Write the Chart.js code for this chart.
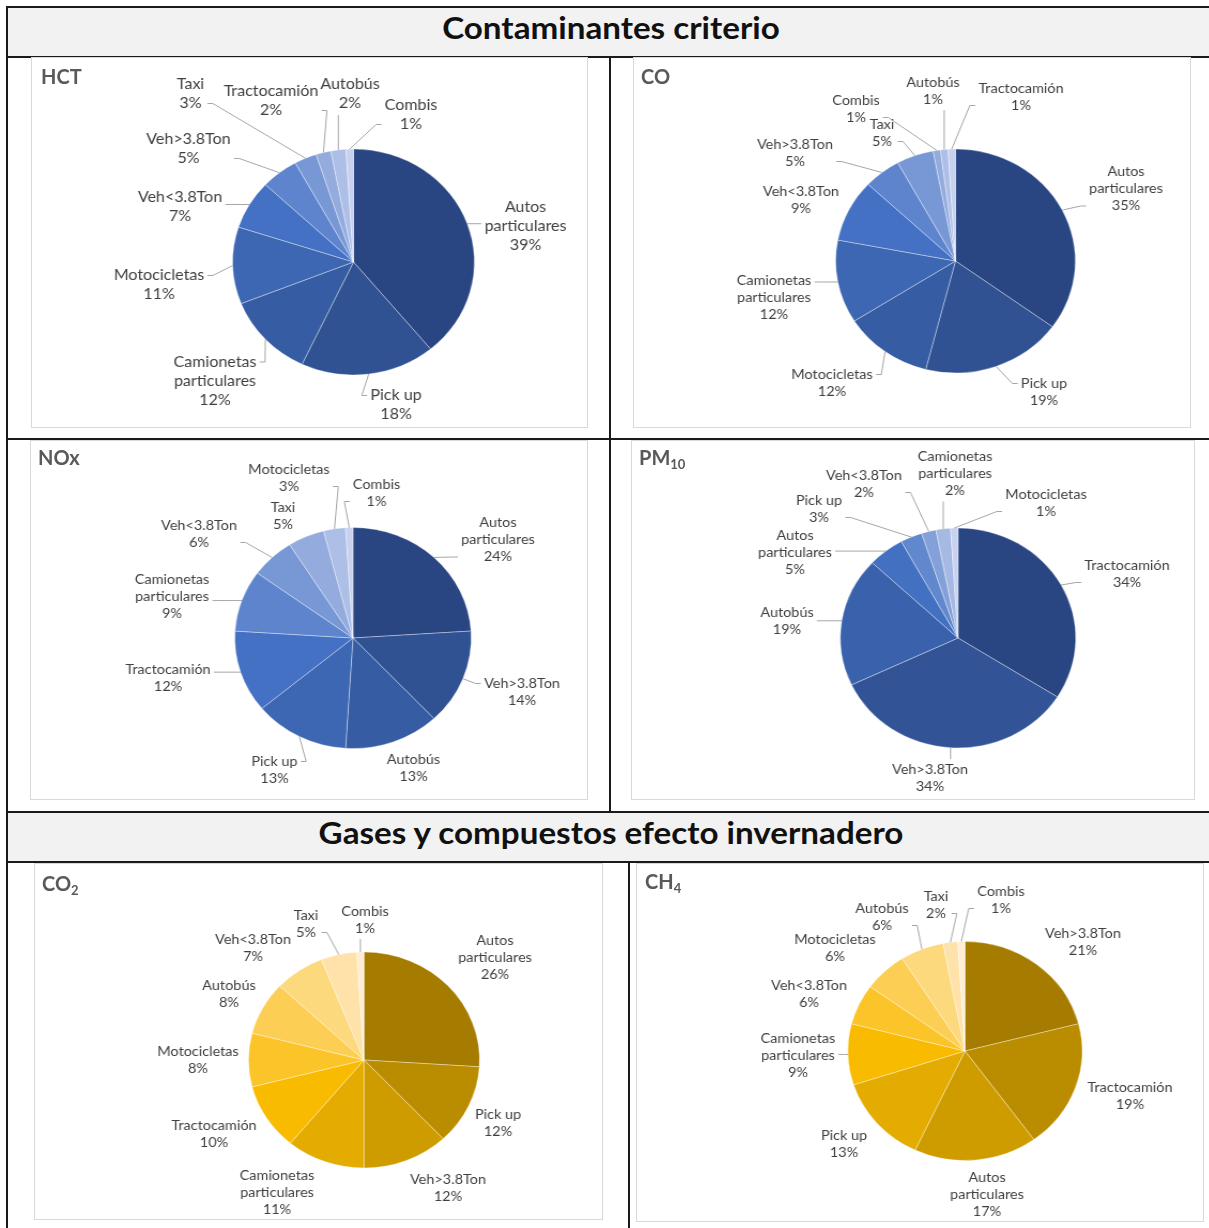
<!DOCTYPE html>
<html lang="es">
<head>
<meta charset="utf-8">
<title>Contaminantes criterio y gases de efecto invernadero</title>
<script src="https://cdn.jsdelivr.net/npm/chart.js@4.4.1/dist/chart.umd.min.js"></script>
<style>
  html, body { margin: 0; padding: 0; background: #fff; }
  body { width: 1209px; height: 1228px; position: relative; overflow: hidden; font-family: Lato, "Open Sans", sans-serif; }
  .rule { position: absolute; background: #1a1a1a; }
  .band { position: absolute; background: #f2f2f2; }
  .band span { position: absolute; top: calc(50% - 5px); left: 603px; white-space: nowrap; font-weight: 700; font-size: 31px; color: #111;
               transform: translate(-50%, -50%) scaleX(1.07); }
  .panel { position: absolute; background: #fff; border: 1px solid #d9d9d9; box-sizing: border-box; }
  .panel canvas { position: absolute; left: 0; top: 0; transform-origin: 0 0; }
  .panel h3 { position: absolute; margin: 0; font-size: 20px; line-height: 20px; font-weight: 700; color: #595959; }
  .panel h3 sub { font-size: 13px; vertical-align: -4px; }
</style>
</head>
<body>

<!-- table frame -->
<div class="band" style="left:8px; top:8px; width:1201px; height:48px;"><span>Contaminantes criterio</span></div>
<div class="band" style="left:8px; top:813px; width:1201px; height:48px;"><span>Gases y compuestos efecto invernadero</span></div>
<div class="rule" style="left:6px; top:6px; width:1203px; height:2px;"></div>
<div class="rule" style="left:6px; top:6px; width:2px; height:1222px;"></div>
<div class="rule" style="left:6px; top:56px; width:1203px; height:2px;"></div>
<div class="rule" style="left:6px; top:438px; width:1203px; height:2px;"></div>
<div class="rule" style="left:6px; top:811px; width:1203px; height:2px;"></div>
<div class="rule" style="left:6px; top:861px; width:1203px; height:2px;"></div>
<div class="rule" style="left:609px; top:57px; width:2px; height:755px;"></div>
<div class="rule" style="left:628px; top:862px; width:2px; height:366px;"></div>

<div id="panels"></div>

<script>
// Participación por tipo de vehículo en las emisiones (%)
const hctCats = ['Autos particulares', 'Pick up', 'Camionetas particulares', 'Motocicletas', 'Veh<3.8Ton',
                 'Veh>3.8Ton', 'Taxi', 'Tractocamión', 'Autobús', 'Combis'];
const hctVals = [39, 18, 12, 11, 7, 5, 3, 2, 2, 1];

const coCats = ['Autos particulares', 'Pick up', 'Motocicletas', 'Camionetas particulares', 'Veh<3.8Ton',
                'Veh>3.8Ton', 'Taxi', 'Combis', 'Autobús', 'Tractocamión'];
const coVals = [35, 19, 12, 12, 9, 5, 5, 1, 1, 1];

const noxCats = ['Autos particulares', 'Veh>3.8Ton', 'Autobús', 'Pick up', 'Tractocamión',
                 'Camionetas particulares', 'Veh<3.8Ton', 'Taxi', 'Motocicletas', 'Combis'];
const noxVals = [24, 14, 13, 13, 12, 9, 6, 5, 3, 1];

const pm10Cats = ['Tractocamión', 'Veh>3.8Ton', 'Autobús', 'Autos particulares', 'Pick up',
                  'Veh<3.8Ton', 'Camionetas particulares', 'Motocicletas'];
const pm10Vals = [34, 34, 19, 5, 3, 2, 2, 1];

const co2Cats = ['Autos particulares', 'Pick up', 'Veh>3.8Ton', 'Camionetas particulares', 'Tractocamión',
                 'Motocicletas', 'Autobús', 'Veh<3.8Ton', 'Taxi', 'Combis'];
const co2Vals = [26, 12, 12, 11, 10, 8, 8, 7, 5, 1];

const ch4Cats = ['Veh>3.8Ton', 'Tractocamión', 'Autos particulares', 'Pick up', 'Camionetas particulares',
                 'Veh<3.8Ton', 'Motocicletas', 'Autobús', 'Taxi', 'Combis'];
const ch4Vals = [21, 19, 17, 13, 9, 6, 6, 6, 2, 1];

// the charts are drawn a bit wider than tall
const STRETCH = 1.07;

// monochrome ramps, dark shade -> accent -> light tint
const BLUE = [[41, 70, 130], [68, 114, 196], [200, 210, 238]];
const GOLD = [[165, 124, 0], [250, 188, 0], [255, 236, 212]];

function ramp(n, [dark, mid, light]) {
  const out = [];
  for (let i = 0; i < n; i++) {
    const t = n > 1 ? i / (n - 1) : 0;
    const [a, b, u] = t < 0.45 ? [dark, mid, t / 0.45] : [mid, light, (t - 0.45) / 0.55];
    out.push('rgb(' + a.map((v, k) => Math.round(v + (b[k] - v) * u)).join(',') + ')');
  }
  return out;
}

// box = [left, top, right, bottom] on the page, center = pie center on the page,
// labels = label centers relative to the pie center (page px)
const panels = [
  { title: 'HCT', cats: hctCats, vals: hctVals, ramp: BLUE, box: [31, 57, 588, 428], center: [352.5, 261], r: 113, font: 15, tt: [9, 8],
    labels: [[172, -36], [42.5, 143], [-138.5, 119], [-194.5, 23], [-173.5, -55], [-165, -113], [-163, -168], [-82.5, -161], [-3.5, -168], [57.5, -147]] },
  { title: 'CO', cats: coCats, vals: coVals, ramp: BLUE, box: [633, 57, 1191, 428], center: [954.5, 260], r: 112, font: 13.5, tt: [7, 8],
    labels: [[170.5, -72], [88.5, 131], [-123.5, 122], [-181.5, 37], [-154.5, -61], [-160.5, -108], [-73.5, -128], [-99.5, -152], [-22.5, -170], [65.5, -164]] },
  { title: 'NOx', cats: noxCats, vals: noxVals, ramp: BLUE, box: [30, 440, 588, 800], center: [352, 637], r: 110.5, font: 13.5, tt: [7, 6],
    labels: [[145, -98], [169, 54], [60.5, 130], [-78.5, 132], [-185, 40], [-181, -41], [-154, -104], [-70, -122], [-64, -160], [23.5, -145]] },
  { title: 'PM<sub>10</sub>', cats: pm10Cats, vals: pm10Vals, ramp: BLUE, box: [631, 440, 1195, 800], center: [957, 637], r: 110, font: 13.5, tt: [7, 6],
    labels: [[169, -64], [-28, 140], [-171, -17], [-163, -85], [-139, -129], [-94, -154], [-3, -164], [88, -135]] },
  { title: 'CO<sub>2</sub>', cats: co2Cats, vals: co2Vals, ramp: GOLD, box: [34, 863, 603, 1220], center: [363, 1059], r: 108, font: 13.5, tt: [7, 9],
    labels: [[131, -102], [134, 63], [84, 128], [-87, 133], [-150, 74], [-166, 0], [-135, -66], [-111, -112], [-58, -136], [1, -140]] },
  { title: 'CH<sub>4</sub>', cats: ch4Cats, vals: ch4Vals, ramp: GOLD, box: [636, 863, 1204, 1222], center: [964, 1050], r: 109.5, font: 13.5, tt: [8, 7],
    labels: [[118, -109], [165, 45], [22, 144], [-121, 93], [-167, 5], [-156, -57], [-130, -102.5], [-83, -134], [-29, -146], [36, -151]] }
];

function splitName(name) {
  const cut = name.indexOf(' ');
  return cut > 0 && name.length > 10 ? [name.slice(0, cut), name.slice(cut + 1)] : [name];
}

// outside labels (name + percentage) with leader lines back to the slice
const sliceLabels = {
  id: 'sliceLabels',
  afterDatasetsDraw(chart, args, opts) {
    const ctx = chart.ctx;
    const meta = chart.getDatasetMeta(0);
    const vals = chart.data.datasets[0].data;
    const lh = Math.round(opts.size * 1.27);
    ctx.save();
    ctx.font = opts.size + 'px Lato, sans-serif';
    ctx.textAlign = 'center';
    ctx.textBaseline = 'middle';
    ctx.strokeStyle = '#a6a6a6';
    ctx.lineWidth = 1;
    ctx.fillStyle = '#404040';
    meta.data.forEach((arc, i) => {
      const { x, y, startAngle, endAngle, outerRadius } = arc.getProps(['x', 'y', 'startAngle', 'endAngle', 'outerRadius'], true);
      const mid = (startAngle + endAngle) / 2;
      const px = x + Math.cos(mid) * outerRadius;
      const py = y + Math.sin(mid) * outerRadius;
      const lines = splitName(chart.data.labels[i]).concat(vals[i] + '%');
      const lx = x + opts.offsets[i][0] / STRETCH;
      const ly = y + opts.offsets[i][1];
      const w = Math.max(...lines.map(s => ctx.measureText(s).width));
      const h = lines.length * lh;
      const left = lx - w / 2, right = lx + w / 2, top = ly - h / 2, bottom = ly + h / 2;
      const gx = Math.max(left - px, 0, px - right);
      const gy = Math.max(top - py, 0, py - bottom);
      // labels sitting close to their slice get no leader line
      if (Math.hypot(gx, gy) > 11.6) {
        let ax, ay, bx, by;
        if (px < left || px > right) {
          const dir = px < left ? -1 : 1;
          ax = dir < 0 ? left - 3 : right + 3;
          ay = Math.min(Math.max(py, top + lh / 2), bottom - lh / 2);
          bx = ax + dir * 5;
          by = ay;
        } else {
          ax = bx = Math.min(Math.max(px, left), right);
          ay = by = py < top ? top - 2 : bottom + 2;
        }
        ctx.beginPath();
        ctx.moveTo(ax, ay);
        ctx.lineTo(bx, by);
        ctx.lineTo(px, py);
        ctx.stroke();
      }
      lines.forEach((s, k) => ctx.fillText(s, lx, top + lh * (k + 0.5)));
    });
    ctx.restore();
  }
};

const host = document.getElementById('panels');
panels.forEach(p => {
  const [L, T, R, B] = p.box;
  const box = document.createElement('div');
  box.className = 'panel';
  Object.assign(box.style, { left: L + 'px', top: T + 'px', width: (R - L) + 'px', height: (B - T) + 'px' });

  const W = Math.round((R - L) / STRETCH), H = B - T;
  const cnv = document.createElement('canvas');
  cnv.width = W;
  cnv.height = H;
  cnv.style.width = W + 'px';
  cnv.style.height = H + 'px';
  cnv.style.transform = 'scaleX(' + STRETCH + ')';
  box.appendChild(cnv);

  const h3 = document.createElement('h3');
  h3.innerHTML = p.title;
  h3.style.left = p.tt[0] + 'px';
  h3.style.top = p.tt[1] + 'px';
  box.appendChild(h3);
  host.appendChild(box);

  // pad the chart area so its middle sits on the pie center
  const cx = (p.center[0] - L) / STRETCH, cy = p.center[1] - T;
  const padX = 2 * cx - W, padY = 2 * cy - H;

  new Chart(cnv, {
    type: 'pie',
    data: {
      labels: p.cats,
      datasets: [{
        data: p.vals,
        backgroundColor: ramp(p.vals.length, p.ramp),
        borderColor: 'rgba(255,255,255,0.35)',
        borderWidth: 1,
        hoverOffset: 0,
        radius: p.r
      }]
    },
    options: {
      responsive: false,
      animation: false,
      events: [],
      layout: { padding: { left: Math.max(padX, 0), right: Math.max(-padX, 0), top: Math.max(padY, 0), bottom: Math.max(-padY, 0) } },
      plugins: {
        legend: { display: false },
        tooltip: { enabled: false },
        sliceLabels: { offsets: p.labels, size: p.font }
      }
    },
    plugins: [sliceLabels]
  });
});
</script>
</body>
</html>
